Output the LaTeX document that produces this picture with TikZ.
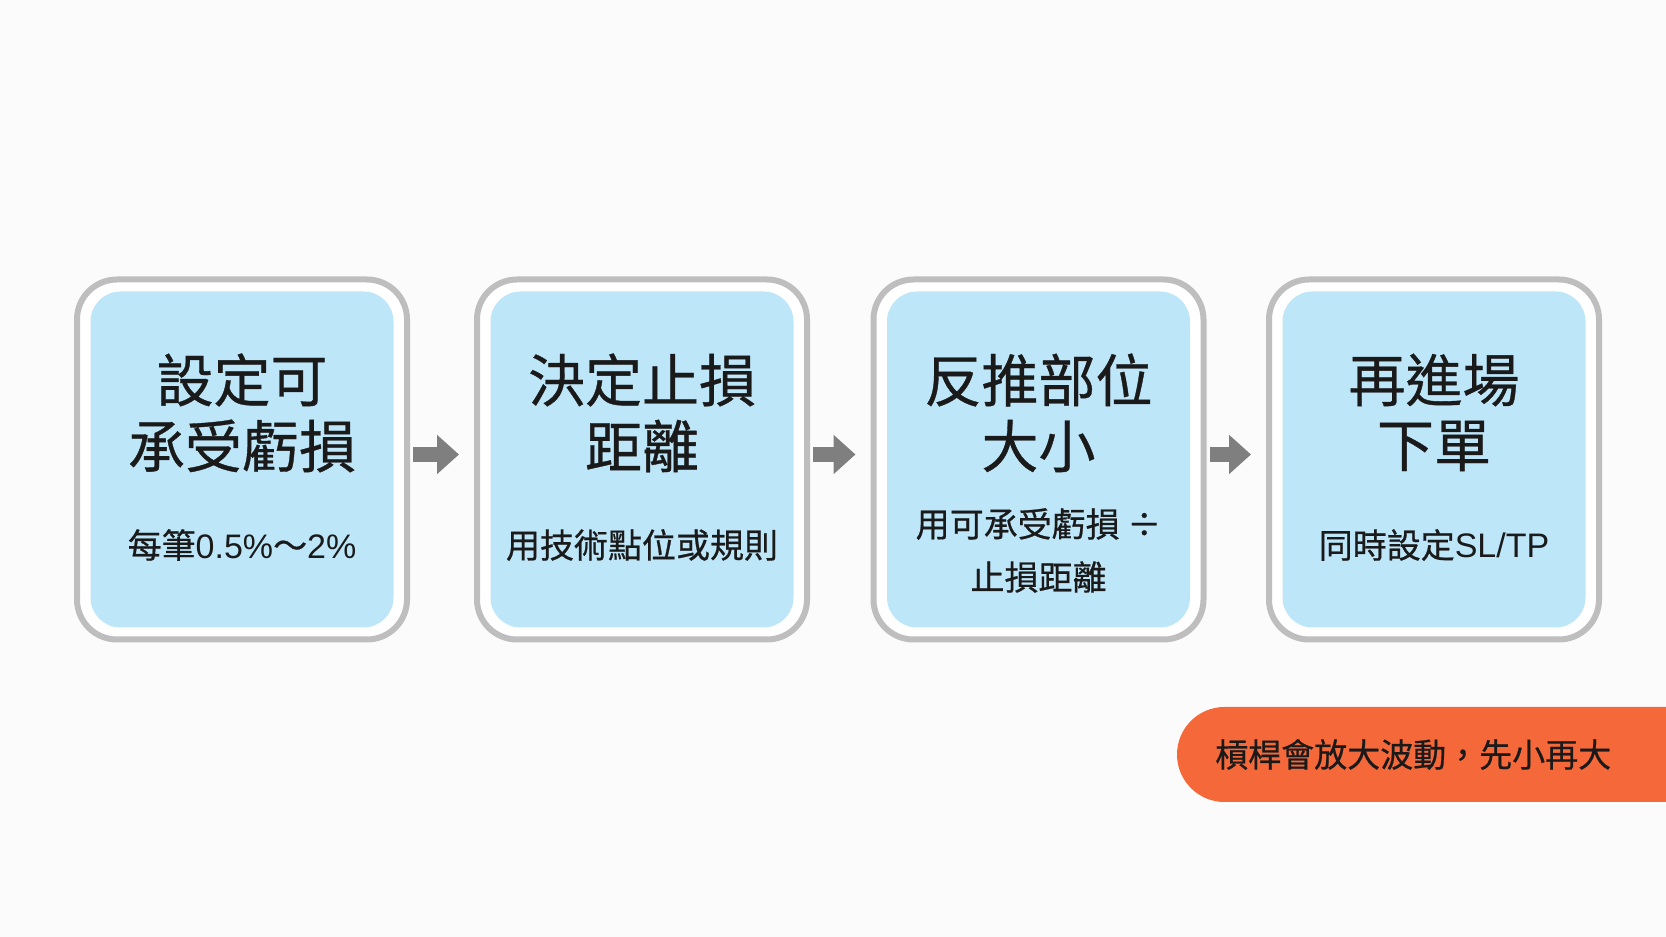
\documentclass[tikz,border=0pt]{standalone}
\usepackage{fontspec}
\newfontfamily\cjk[FakeBold=0.6]{Noto Sans CJK TC}
\newfontfamily\lat{Liberation Sans}
\usetikzlibrary{arrows.meta,shapes.misc}
\definecolor{bgc}{HTML}{FBFBFB}
\definecolor{boxline}{HTML}{BEBEBE}
\definecolor{boxblue}{HTML}{BEE6F9}
\definecolor{arrowgray}{HTML}{7F7F7F}
\definecolor{bannerc}{HTML}{F4683A}
\definecolor{ink}{HTML}{1A1A1A}
\tikzset{
  outerbox/.style={draw=boxline, line width=6pt, fill=white, rounded corners=40pt,
    minimum width=330pt, minimum height=360pt, inner sep=0pt},
  innerbox/.style={fill=boxblue, rounded corners=30pt,
    minimum width=303pt, minimum height=336pt, inner sep=0pt},
  titletext/.style={font=\cjk\fontsize{57pt}{66pt}\selectfont, text=ink, inner sep=0pt},
  subtext/.style={font=\cjk\fontsize{34pt}{53pt}\selectfont, text=ink, inner sep=0pt},
  flowarrow/.style={draw=arrowgray, line width=15pt, -{Triangle[length=22pt,width=38pt]}},
  banner/.style={rounded rectangle, rounded rectangle right arc=none, fill=bannerc,
    minimum width=489pt, minimum height=95pt, inner sep=0pt},
  bannertext/.style={font=\cjk\fontsize{33pt}{40pt}\selectfont, text=ink, inner sep=0pt, anchor=west}
}
\begin{document}
\begin{tikzpicture}[x=1pt,y=1pt]
\fill[bgc] (0,0) rectangle (1666,937);
\useasboundingbox (0,0) rectangle (1666,937);
% boxes
\foreach \n/\cx in {1/242,2/642,3/1038.5,4/1434}{
  \node[outerbox] (b\n) at (\cx,477.5) {};
  \node[innerbox] (b\n i) at (\cx,477.5) {};
}
% titles
\node[titletext] (t1a) at ([yshift=79.5]b1.center) {設定可};
\node[titletext] (t1b) at ([yshift=13.5]b1.center) {承受虧損};
\node[subtext] (s1) at ([yshift=-85.5]b1.center) {每筆{\lat 0.5\%}～{\lat 2\%}};
\node[titletext] (t2a) at ([yshift=79.5]b2.center) {決定止損};
\node[titletext] (t2b) at ([yshift=13.5]b2.center) {距離};
\node[subtext] (s2) at ([yshift=-85.5]b2.center) {用技術點位或規則};
\node[titletext] (t3a) at ([yshift=79.5]b3.center) {反推部位};
\node[titletext] (t3b) at ([yshift=13.5]b3.center) {大小};
\node[subtext] (s3a) at ([yshift=-64.5]b3.center) {用可承受虧損 ÷};
\node[subtext] (s3b) at ([yshift=-117.5]b3.center) {止損距離};
\node[titletext] (t4a) at ([yshift=79.5]b4.center) {再進場};
\node[titletext] (t4b) at ([yshift=13.5]b4.center) {下單};
\node[subtext] (s4) at ([yshift=-85.5]b4.center) {同時設定{\lat SL/TP}};
% arrows
\draw[flowarrow] ([xshift=3pt,yshift=5pt]b1.east) -- ([xshift=-15pt,yshift=5pt]b2.west);
\draw[flowarrow] ([xshift=3pt,yshift=5pt]b2.east) -- ([xshift=-15pt,yshift=5pt]b3.west);
\draw[flowarrow] ([xshift=3pt,yshift=5pt]b3.east) -- ([xshift=-15pt,yshift=5pt]b4.west);
% banner
\node[banner] (ban) at (1421.5,182.5) {};
\node[bannertext] (bant) at (1215,182.5) {槓桿會放大波動，先小再大};
\end{tikzpicture}
\end{document}
